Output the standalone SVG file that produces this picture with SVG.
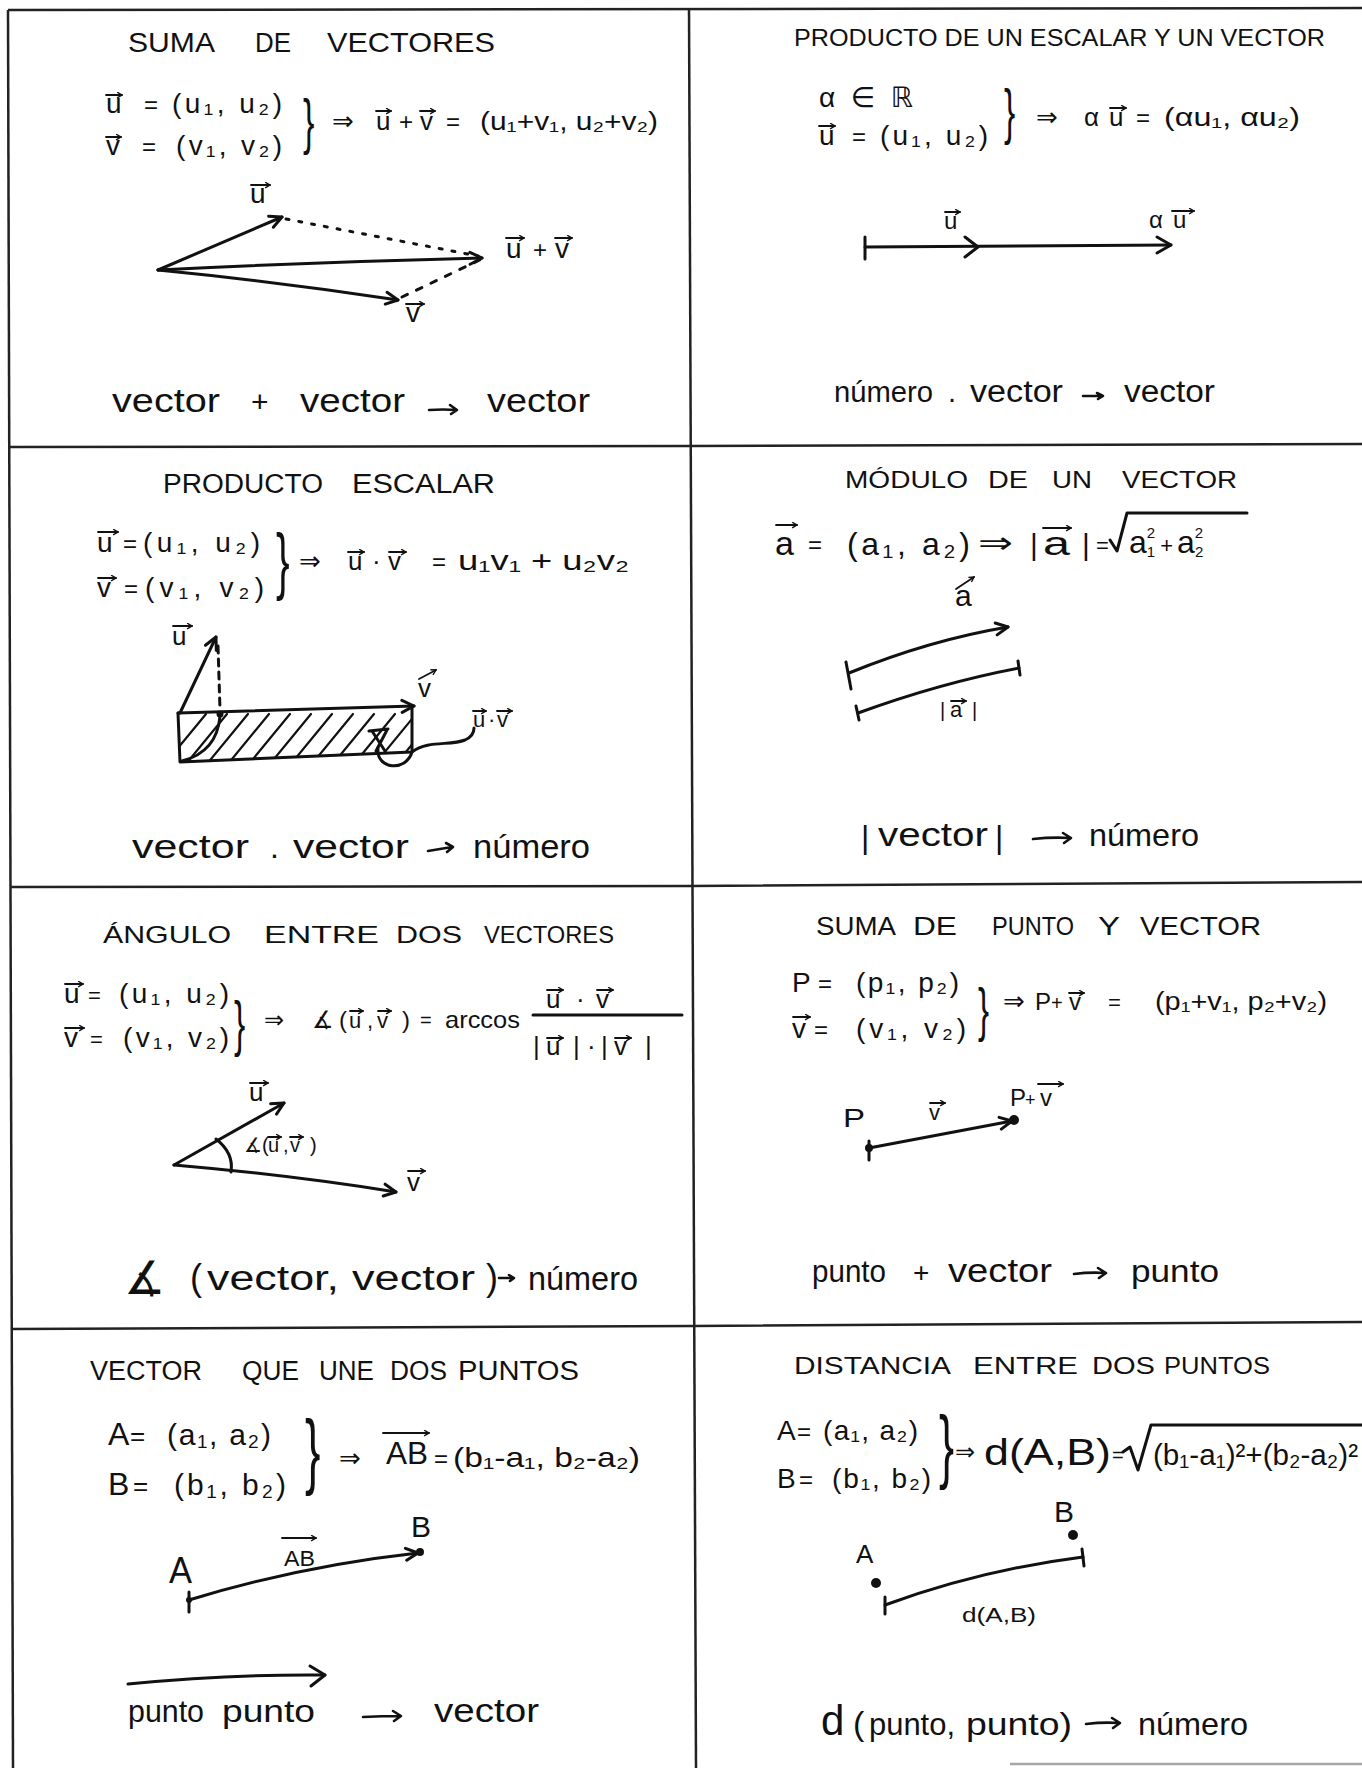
<svg xmlns="http://www.w3.org/2000/svg" width="1362" height="1768" viewBox="0 0 1362 1768">
<defs>
<style>
text{font-family:"Liberation Sans","DejaVu Sans",sans-serif;fill:#111}
.ln{stroke:#111;stroke-width:3;fill:none;stroke-linecap:round;stroke-linejoin:round}
.ar{stroke:#111;stroke-width:3;fill:none;stroke-linecap:round;marker-end:url(#ah)}
.va{stroke:#111;stroke-width:1.8;fill:none;stroke-linecap:round;marker-end:url(#sa)}
.to{stroke:#111;stroke-width:2.6;fill:none;stroke-linecap:round;stroke-linejoin:round}
.grid{stroke:#222;stroke-width:2.5;fill:none}
.hatch{stroke:#111;stroke-width:2.2;fill:none;stroke-linecap:round}
</style>
<marker id="ah" viewBox="0 0 16 16" refX="14" refY="8" markerWidth="16" markerHeight="16" markerUnits="userSpaceOnUse" orient="auto"><path d="M2,2 L14,8 L2,14" fill="none" stroke="#111" stroke-width="3" stroke-linecap="round" stroke-linejoin="round"/></marker>
<marker id="sa" viewBox="0 0 10 10" refX="9" refY="5" markerWidth="7" markerHeight="7" markerUnits="userSpaceOnUse" orient="auto"><path d="M2,1 L9,5 L2,9" fill="none" stroke="#111" stroke-width="2"/></marker>
<clipPath id="hc"><path d="M178,713 L412,708 L412,752 L180,762 Z"/></clipPath>
</defs>
<rect width="1362" height="1768" fill="#fff"/>

<g id="grid">
<path class="grid" d="M8,10 L13,1768"/>
<path class="grid" d="M8,10 L1362,8"/>
<path class="grid" d="M689,8 L696,1768"/>
<path class="grid" d="M8,447 L689,446 L1362,444"/>
<path class="grid" d="M10,887 L690,886 L1362,882"/>
<path class="grid" d="M12,1329 L693,1326 L1362,1322"/>
<path class="grid" d="M1010,1764 L1362,1764" stroke-opacity="0.4"/>
</g>

<g id="suma-vectores">
<text x="128" y="52" font-size="28" textLength="87" lengthAdjust="spacingAndGlyphs">SUMA</text>
<text x="255" y="52" font-size="28" textLength="36" lengthAdjust="spacingAndGlyphs">DE</text>
<text x="327" y="52" font-size="28" textLength="168" lengthAdjust="spacingAndGlyphs">VECTORES</text>
<text x="106" y="113" font-size="28">u</text><path class="va" d="M106,95 H122"/>
<text x="144" y="113" font-size="24">=</text>
<text x="172" y="113" font-size="28" textLength="110" lengthAdjust="spacing">(u₁, u₂)</text>
<text x="106" y="155" font-size="28">v</text><path class="va" d="M106,137 H121"/>
<text x="142" y="155" font-size="24">=</text>
<text x="176" y="155" font-size="28" textLength="106" lengthAdjust="spacing">(v₁, v₂)</text>
<text transform="translate(303,142) scale(0.55,1)" font-size="62">}</text>
<text x="332" y="130" font-size="26">⇒</text>
<text x="376" y="130" font-size="26">u</text><path class="va" d="M376,111 H391"/>
<text x="399" y="130" font-size="24">+</text>
<text x="420" y="130" font-size="26">v</text><path class="va" d="M420,111 H435"/>
<text x="446" y="130" font-size="24">=</text>
<text x="480" y="130" font-size="26" textLength="178" lengthAdjust="spacingAndGlyphs">(u₁+v₁, u₂+v₂)</text>
<path class="ar" d="M158,270 L282,217"/>
<path class="ar" d="M158,270 Q320,262 482,258"/>
<path class="ar" d="M158,270 Q280,282 398,300"/>
<path class="ln" d="M286,219 L478,256" stroke-width="2.5" stroke-dasharray="3 10"/>
<path class="ln" d="M402,297 L488,256" stroke-width="2.5" stroke-dasharray="6 10"/>
<text x="250" y="203" font-size="28">u</text><path class="va" d="M251,185 H270"/>
<text x="506" y="258" font-size="28">u</text><path class="va" d="M506,238 H524"/>
<text x="533" y="258" font-size="24">+</text>
<text x="555" y="258" font-size="28">v</text><path class="va" d="M555,238 H572"/>
<text x="406" y="322" font-size="28">v</text><path class="va" d="M406,304 H424"/>
<text x="112" y="412" font-size="34" textLength="108" lengthAdjust="spacingAndGlyphs">vector</text>
<text x="251" y="412" font-size="30">+</text>
<text x="300" y="412" font-size="34" textLength="105" lengthAdjust="spacingAndGlyphs">vector</text>
<path class="to" d="M429,410 Q443,409 457,410 M450,405 L457,410 L451,414"/>
<text x="487" y="412" font-size="34" textLength="103" lengthAdjust="spacingAndGlyphs">vector</text>
</g>

<g id="producto-escalar-vector">
<text x="794" y="46" font-size="23" textLength="531" lengthAdjust="spacingAndGlyphs">PRODUCTO DE UN ESCALAR Y UN VECTOR</text>
<text x="819" y="107" font-size="28" textLength="94" lengthAdjust="spacing">α ∈ ℝ</text>
<text x="819" y="145" font-size="28">u</text><path class="va" d="M819,126 H835"/>
<text x="852" y="145" font-size="24">=</text>
<text x="880" y="145" font-size="28" textLength="108" lengthAdjust="spacing">(u₁, u₂)</text>
<text transform="translate(1004,132) scale(0.55,1)" font-size="61">}</text>
<text x="1036" y="126" font-size="26">⇒</text>
<text x="1084" y="126" font-size="26">α</text>
<text x="1109" y="126" font-size="26">u</text><path class="va" d="M1110,108 H1126"/>
<text x="1136" y="126" font-size="24">=</text>
<text x="1164" y="126" font-size="26" textLength="136" lengthAdjust="spacingAndGlyphs">(αu₁, αu₂)</text>
<path class="ln" d="M865,247 L1171,245"/>
<path class="ln" d="M865,237 V259"/>
<path class="ln" d="M965,237 L978,247 L965,257"/>
<path class="ln" d="M1157,237 L1171,245 L1157,253"/>
<text x="944" y="229" font-size="24">u</text><path class="va" d="M945,212 H960"/>
<text x="1149" y="228" font-size="24">α</text>
<text x="1173" y="228" font-size="24">u</text><path class="va" d="M1172,211 H1194"/>
<text x="834" y="402" font-size="30" textLength="99" lengthAdjust="spacingAndGlyphs">número</text>
<text x="948" y="402" font-size="29">.</text>
<text x="970" y="402" font-size="31" textLength="93" lengthAdjust="spacingAndGlyphs">vector</text>
<path class="to" d="M1083,396 H1102 M1097,393 L1103,396 L1098,399"/>
<text x="1124" y="402" font-size="31" textLength="91" lengthAdjust="spacingAndGlyphs">vector</text>
</g>

<g id="producto-escalar">
<text x="163" y="493" font-size="27" textLength="160" lengthAdjust="spacingAndGlyphs">PRODUCTO</text>
<text x="352" y="493" font-size="27" textLength="143" lengthAdjust="spacingAndGlyphs">ESCALAR</text>
<text x="97" y="552" font-size="28">u</text><path class="va" d="M98,532 H118"/>
<text x="123" y="552" font-size="24">=</text>
<text x="143" y="552" font-size="28" textLength="117" lengthAdjust="spacing">(u₁, u₂)</text>
<text x="97" y="597" font-size="28">v</text><path class="va" d="M98,578 H116"/>
<text x="124" y="597" font-size="24">=</text>
<text x="145" y="597" font-size="28" textLength="119" lengthAdjust="spacing">(v₁, v₂)</text>
<text transform="translate(276,586) scale(0.55,1)" font-size="74">}</text>
<text x="299" y="570" font-size="26">⇒</text>
<text x="348" y="570" font-size="26">u</text><path class="va" d="M348,552 H364"/>
<text x="372" y="570" font-size="26">·</text>
<text x="388" y="570" font-size="26">v</text><path class="va" d="M389,552 H406"/>
<text x="432" y="570" font-size="24">=</text>
<text x="458" y="570" font-size="28" textLength="171" lengthAdjust="spacingAndGlyphs">u₁v₁ + u₂v₂</text>
<g clip-path="url(#hc)">
<path class="hatch" d="M160,770 L206,714 M181,770 L227,714 M202,770 L248,714 M223,770 L269,714 M244,770 L290,714 M265,770 L311,714 M286,770 L332,714 M307,770 L353,714 M328,770 L374,714 M349,770 L395,714 M370,770 L416,714 M391,770 L437,714"/>
</g>
<path class="ln" d="M412,708 L412,752 L180,762 L178,713"/>
<path class="ar" d="M178,713 L414,706"/>
<path class="ar" d="M180,713 L216,637"/>
<path class="ln" d="M218,646 L220,710" stroke-width="2.5" stroke-dasharray="7 6"/>
<circle cx="220" cy="714" r="3.5" fill="#111"/>
<path class="ln" d="M220,716 Q217,752 182,761"/>
<path class="ln" d="M369,731 L388,729 M372,731 L385,751 M387,730 L376,751" stroke-width="2.5"/>
<path class="ln" d="M378,748 C376,770 406,772 412,752 C428,740 450,746 465,740 Q474,736 474,728" stroke-width="2.5"/>
<text x="172" y="645" font-size="26">u</text><path class="va" d="M173,626 H192"/>
<text x="418" y="697" font-size="26">v</text><path class="va" d="M419,679 L436,670"/>
<text x="473" y="727" font-size="22">u</text><path class="va" d="M473,711 H486"/>
<text x="488" y="727" font-size="22">·</text>
<text x="497" y="727" font-size="22">v</text><path class="va" d="M497,711 H512"/>
<text x="132" y="858" font-size="34" textLength="117" lengthAdjust="spacingAndGlyphs">vector</text>
<text x="270" y="858" font-size="32">.</text>
<text x="293" y="858" font-size="34" textLength="116" lengthAdjust="spacingAndGlyphs">vector</text>
<path class="to" d="M428,851 Q440,849 452,847 M446,843 L453,847 L447,852"/>
<text x="473" y="858" font-size="34" textLength="117" lengthAdjust="spacingAndGlyphs">número</text>
</g>

<g id="modulo-vector">
<text x="845" y="488" font-size="23" textLength="123" lengthAdjust="spacingAndGlyphs">MÓDULO</text>
<text x="988" y="488" font-size="23" textLength="40" lengthAdjust="spacingAndGlyphs">DE</text>
<text x="1052" y="488" font-size="23" textLength="40" lengthAdjust="spacingAndGlyphs">UN</text>
<text x="1122" y="488" font-size="23" textLength="115" lengthAdjust="spacingAndGlyphs">VECTOR</text>
<text x="775" y="555" font-size="34">a</text><path class="va" d="M776,525 H797"/>
<text x="808" y="553" font-size="24">=</text>
<text x="847" y="555" font-size="32" textLength="123" lengthAdjust="spacing">(a₁, a₂)</text>
<text x="978" y="553" font-size="30" textLength="35" lengthAdjust="spacingAndGlyphs">⇒</text>
<text x="1030" y="555" font-size="30">|</text>
<text x="1043" y="555" font-size="34" textLength="27" lengthAdjust="spacingAndGlyphs">a</text><path class="va" d="M1043,528 H1071"/>
<text x="1082" y="555" font-size="30">|</text>
<text x="1096" y="553" font-size="22">=</text>
<path class="ln" d="M1110,540 L1117,551 L1127,513 H1247" stroke-width="2.5"/>
<text x="1129" y="553" font-size="32">a<tspan font-size="15" dy="-15">2</tspan><tspan font-size="15" dx="-8.3" dy="19">1</tspan><tspan font-size="22" dx="5" dy="-4">+</tspan><tspan dx="4">a</tspan><tspan font-size="15" dy="-15">2</tspan><tspan font-size="15" dx="-8.3" dy="19">2</tspan></text>
<text x="955" y="606" font-size="30">a</text><path class="va" d="M956,589 L974,577"/>
<path class="ar" d="M849,673 Q930,640 1008,627"/>
<path class="ln" d="M846,662 L851,689"/>
<path class="ln" d="M858,713 Q940,683 1019,668"/>
<path class="ln" d="M856,706 L859,720 M1018,661 L1020,675"/>
<text x="940" y="717" font-size="20">|</text>
<text x="950" y="717" font-size="22">a</text><path class="va" d="M951,701 H966"/>
<text x="972" y="717" font-size="20">|</text>
<text x="861" y="848" font-size="32">|</text>
<text x="878" y="846" font-size="34" textLength="110" lengthAdjust="spacingAndGlyphs">vector</text>
<text x="995" y="848" font-size="32">|</text>
<path class="to" d="M1033,839 Q1052,837 1070,838 M1063,833 L1071,838 L1064,843"/>
<text x="1089" y="846" font-size="32" textLength="110" lengthAdjust="spacingAndGlyphs">número</text>
</g>

<g id="angulo-vectores">
<text x="103" y="943" font-size="24" textLength="128" lengthAdjust="spacingAndGlyphs">ÁNGULO</text>
<text x="264" y="943" font-size="24" textLength="115" lengthAdjust="spacingAndGlyphs">ENTRE</text>
<text x="396" y="943" font-size="24" textLength="66" lengthAdjust="spacingAndGlyphs">DOS</text>
<text x="484" y="943" font-size="24" textLength="130" lengthAdjust="spacingAndGlyphs">VECTORES</text>
<text x="64" y="1003" font-size="28">u</text><path class="va" d="M65,984 H83"/>
<text x="88" y="1003" font-size="22">=</text>
<text x="119" y="1003" font-size="28" textLength="110" lengthAdjust="spacing">(u₁, u₂)</text>
<text x="64" y="1047" font-size="28">v</text><path class="va" d="M65,1028 H84"/>
<text x="90" y="1047" font-size="22">=</text>
<text x="123" y="1047" font-size="28" textLength="106" lengthAdjust="spacing">(v₁, v₂)</text>
<text transform="translate(234,1044) scale(0.55,1)" font-size="61">}</text>
<text x="264" y="1028" font-size="24">⇒</text>
<text x="312" y="1028" font-size="24">∡</text>
<text x="339" y="1028" font-size="24">(</text>
<text x="349" y="1028" font-size="22">u</text><path class="va" d="M350,1011 H363"/>
<text x="367" y="1028" font-size="22">,</text>
<text x="377" y="1028" font-size="22">v</text><path class="va" d="M378,1011 H391"/>
<text x="402" y="1028" font-size="24">)</text>
<text x="420" y="1027" font-size="20">=</text>
<text x="445" y="1028" font-size="24" textLength="75" lengthAdjust="spacingAndGlyphs">arccos</text>
<text x="546" y="1008" font-size="26">u</text><path class="va" d="M547,990 H563"/>
<text x="576" y="1008" font-size="26">·</text>
<text x="596" y="1008" font-size="26">v</text><path class="va" d="M597,990 H613"/>
<path class="ln" d="M533,1015 H682" stroke-width="2.5"/>
<text x="533" y="1055" font-size="26">|</text>
<text x="546" y="1055" font-size="26">u</text><path class="va" d="M547,1038 H563"/>
<text x="573" y="1055" font-size="26">|</text>
<text x="587" y="1055" font-size="26">·</text>
<text x="601" y="1055" font-size="26">|</text>
<text x="614" y="1055" font-size="26">v</text><path class="va" d="M615,1038 H631"/>
<text x="645" y="1055" font-size="26">|</text>
<path class="ar" d="M174,1165 L284,1103"/>
<path class="ar" d="M174,1165 Q290,1175 396,1192"/>
<path class="ln" d="M216,1139 Q234,1153 231,1172" stroke-width="2.5"/>
<text x="244" y="1152" font-size="20">∡(</text>
<text x="268" y="1152" font-size="20">u</text><path class="va" d="M268,1137 H281"/>
<text x="283" y="1152" font-size="20">,</text>
<text x="290" y="1152" font-size="20">v</text><path class="va" d="M290,1137 H303"/>
<text x="310" y="1152" font-size="20">)</text>
<text x="249" y="1101" font-size="26">u</text><path class="va" d="M250,1083 H268"/>
<text x="407" y="1191" font-size="26">v</text><path class="va" d="M408,1171 H425"/>
<text x="124" y="1294" font-size="46">∡</text>
<text x="190" y="1290" font-size="36">(</text>
<text x="207" y="1290" font-size="35" textLength="132" lengthAdjust="spacingAndGlyphs">vector,</text>
<text x="352" y="1290" font-size="35" textLength="123" lengthAdjust="spacingAndGlyphs">vector</text>
<text x="486" y="1290" font-size="36">)</text>
<path class="to" d="M499,1278 H513 M509,1275 L514,1278 L510,1281"/>
<text x="528" y="1290" font-size="33" textLength="110" lengthAdjust="spacingAndGlyphs">número</text>
</g>

<g id="suma-punto-vector">
<text x="816" y="935" font-size="25" textLength="80" lengthAdjust="spacingAndGlyphs">SUMA</text>
<text x="913" y="935" font-size="25" textLength="44" lengthAdjust="spacingAndGlyphs">DE</text>
<text x="992" y="935" font-size="25" textLength="82" lengthAdjust="spacingAndGlyphs">PUNTO</text>
<text x="1098" y="935" font-size="25" textLength="22" lengthAdjust="spacingAndGlyphs">Y</text>
<text x="1140" y="935" font-size="25" textLength="121" lengthAdjust="spacingAndGlyphs">VECTOR</text>
<text x="792" y="992" font-size="28">P</text>
<text x="818" y="992" font-size="24">=</text>
<text x="856" y="992" font-size="28" textLength="103" lengthAdjust="spacing">(p₁, p₂)</text>
<text x="792" y="1038" font-size="28">v</text><path class="va" d="M793,1017 H810"/>
<text x="814" y="1038" font-size="24">=</text>
<text x="856" y="1038" font-size="28" textLength="110" lengthAdjust="spacing">(v₁, v₂)</text>
<text transform="translate(978,1030) scale(0.55,1)" font-size="60">}</text>
<text x="1003" y="1010" font-size="26">⇒</text>
<text x="1035" y="1010" font-size="24">P</text>
<text x="1051" y="1010" font-size="20">+</text>
<text x="1069" y="1010" font-size="24">v</text><path class="va" d="M1069,993 H1084"/>
<text x="1108" y="1010" font-size="22">=</text>
<text x="1155" y="1010" font-size="26" textLength="172" lengthAdjust="spacingAndGlyphs">(p₁+v₁, p₂+v₂)</text>
<path class="ar" d="M869,1148 L1012,1121"/>
<circle cx="869" cy="1148" r="4" fill="#111"/>
<circle cx="1014" cy="1120" r="5" fill="#111"/>
<path class="ln" d="M869,1141 V1160"/>
<text x="843" y="1127" font-size="26" textLength="22" lengthAdjust="spacingAndGlyphs">P</text>
<text x="929" y="1120" font-size="22">v</text><path class="va" d="M930,1103 H945"/>
<text x="1010" y="1106" font-size="24">P</text>
<text x="1025" y="1106" font-size="18">+</text>
<text x="1040" y="1106" font-size="24">v</text><path class="va" d="M1038,1084 H1063"/>
<text x="812" y="1282" font-size="32" textLength="74" lengthAdjust="spacingAndGlyphs">punto</text>
<text x="913" y="1282" font-size="28">+</text>
<text x="948" y="1282" font-size="34" textLength="104" lengthAdjust="spacingAndGlyphs">vector</text>
<path class="to" d="M1074,1274 Q1090,1272 1105,1273 M1098,1268 L1106,1273 L1099,1278"/>
<text x="1131" y="1282" font-size="32" textLength="88" lengthAdjust="spacingAndGlyphs">punto</text>
</g>

<g id="vector-dos-puntos">
<text x="90" y="1380" font-size="27" textLength="112" lengthAdjust="spacingAndGlyphs">VECTOR</text>
<text x="242" y="1380" font-size="27" textLength="57" lengthAdjust="spacingAndGlyphs">QUE</text>
<text x="319" y="1380" font-size="27" textLength="55" lengthAdjust="spacingAndGlyphs">UNE</text>
<text x="390" y="1380" font-size="27" textLength="57" lengthAdjust="spacingAndGlyphs">DOS</text>
<text x="458" y="1380" font-size="27" textLength="121" lengthAdjust="spacingAndGlyphs">PUNTOS</text>
<text x="108" y="1445" font-size="32">A</text>
<text x="130" y="1445" font-size="26">=</text>
<text x="167" y="1445" font-size="30" textLength="104" lengthAdjust="spacing">(a₁, a₂)</text>
<text x="108" y="1495" font-size="32">B</text>
<text x="133" y="1495" font-size="26">=</text>
<text x="174" y="1495" font-size="30" textLength="112" lengthAdjust="spacing">(b₁, b₂)</text>
<text transform="translate(305,1479) scale(0.55,1)" font-size="84">}</text>
<text x="339" y="1467" font-size="26">⇒</text>
<text x="386" y="1464" font-size="32" textLength="42" lengthAdjust="spacingAndGlyphs">AB</text><path class="va" d="M383,1433 H429"/>
<text x="434" y="1467" font-size="24">=</text>
<text x="453" y="1467" font-size="28" textLength="187" lengthAdjust="spacingAndGlyphs">(b₁-a₁, b₂-a₂)</text>
<path class="ar" d="M189,1600 Q300,1566 418,1553"/>
<circle cx="420" cy="1552" r="4" fill="#111"/>
<circle cx="189" cy="1600" r="3" fill="#111"/>
<path class="ln" d="M189,1592 V1612"/>
<text x="169" y="1583" font-size="36" textLength="23" lengthAdjust="spacingAndGlyphs">A</text>
<text x="411" y="1537" font-size="30">B</text>
<text x="284" y="1566" font-size="22" textLength="31" lengthAdjust="spacingAndGlyphs">AB</text><path class="va" d="M282,1538 H316"/>
<path class="ln" d="M128,1684 Q230,1674 325,1675"/>
<path class="ln" d="M310,1666 L325,1675 L311,1686"/>
<text x="128" y="1722" font-size="32" textLength="76" lengthAdjust="spacingAndGlyphs">punto</text>
<text x="222" y="1722" font-size="32" textLength="93" lengthAdjust="spacingAndGlyphs">punto</text>
<path class="to" d="M363,1717 Q382,1716 400,1716 M393,1711 L401,1716 L394,1721"/>
<text x="434" y="1722" font-size="34" textLength="105" lengthAdjust="spacingAndGlyphs">vector</text>
</g>

<g id="distancia-puntos">
<text x="794" y="1374" font-size="24" textLength="157" lengthAdjust="spacingAndGlyphs">DISTANCIA</text>
<text x="973" y="1374" font-size="24" textLength="105" lengthAdjust="spacingAndGlyphs">ENTRE</text>
<text x="1092" y="1374" font-size="24" textLength="63" lengthAdjust="spacingAndGlyphs">DOS</text>
<text x="1164" y="1374" font-size="24" textLength="106" lengthAdjust="spacingAndGlyphs">PUNTOS</text>
<text x="777" y="1440" font-size="28">A</text>
<text x="797" y="1440" font-size="24">=</text>
<text x="823" y="1440" font-size="28" textLength="95" lengthAdjust="spacing">(a₁, a₂)</text>
<text x="777" y="1488" font-size="28">B</text>
<text x="799" y="1488" font-size="24">=</text>
<text x="832" y="1488" font-size="28" textLength="99" lengthAdjust="spacing">(b₁, b₂)</text>
<text transform="translate(939,1473) scale(0.55,1)" font-size="82">}</text>
<text x="955" y="1460" font-size="24">⇒</text>
<text x="984" y="1465" font-size="36" textLength="127" lengthAdjust="spacingAndGlyphs">d(A,B)</text>
<text x="1112" y="1462" font-size="20">=</text>
<path class="ln" d="M1123,1452 L1130,1447 L1138,1470 L1151,1425 H1362" stroke-width="2.5"/>
<text x="1153" y="1465" font-size="30" textLength="205" lengthAdjust="spacingAndGlyphs">(b₁-a₁)²+(b₂-a₂)²</text>
<circle cx="876" cy="1583" r="5" fill="#111"/>
<circle cx="1073" cy="1535" r="5" fill="#111"/>
<path class="ln" d="M885,1605 Q980,1570 1083,1557"/>
<path class="ln" d="M885,1597 V1614 M1082,1549 L1084,1566"/>
<text x="856" y="1563" font-size="26">A</text>
<text x="1054" y="1522" font-size="30">B</text>
<text x="962" y="1622" font-size="20" textLength="74" lengthAdjust="spacingAndGlyphs">d(A,B)</text>
<text x="821" y="1735" font-size="42">d</text>
<text x="853" y="1735" font-size="34">(</text>
<text x="869" y="1735" font-size="32" textLength="86" lengthAdjust="spacingAndGlyphs">punto,</text>
<text x="966" y="1735" font-size="32" textLength="106" lengthAdjust="spacingAndGlyphs">punto)</text>
<path class="to" d="M1086,1724 Q1103,1722 1119,1723 M1112,1718 L1120,1723 L1113,1728"/>
<text x="1138" y="1735" font-size="32" textLength="110" lengthAdjust="spacingAndGlyphs">número</text>
</g>
</svg>
